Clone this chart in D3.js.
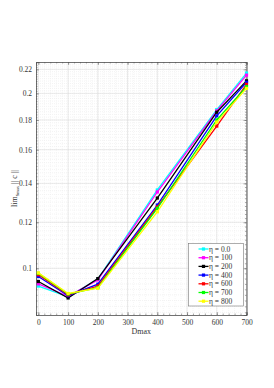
<!DOCTYPE html>
<html>
<head>
<meta charset="utf-8">
<script src="https://cdn.jsdelivr.net/npm/d3@7"></script>
<style>
body { margin: 0; background: #fff; }
text { font-family: "Liberation Serif", "DejaVu Serif", serif; }
</style>
</head>
<body>
<svg id="chart" width="274" height="388"></svg>
<script>
// data
let dmax = [0, 100, 200, 400, 600, 700]
let eta_labels = ["η = 0.0", "η = 100", "η = 200", "η = 400", "η = 600", "η = 700", "η = 800"]
let eta_colors = ["#00ffff", "#ff00ff", "#000000", "#0000ff", "#ff0000", "#00ff00", "#ffff00"]
let eta_0   = [0.0932, 0.0893, 0.0958, 0.1364, 0.1876, 0.2168]
let eta_100 = [0.0940, 0.0895, 0.0955, 0.1353, 0.1866, 0.2150]
let eta_200 = [0.0949, 0.0889, 0.0960, 0.1321, 0.1856, 0.2102]
let eta_400 = [0.0968, 0.0897, 0.0939, 0.1285, 0.1830, 0.2090]
let eta_600 = [0.0975, 0.0900, 0.0932, 0.1275, 0.1757, 0.2073]
let eta_700 = [0.0980, 0.0903, 0.0926, 0.1268, 0.1800, 0.2054]
let eta_800 = [0.0982, 0.0905, 0.0924, 0.1251, 0.1785, 0.2040]
let series = [eta_0, eta_100, eta_200, eta_400, eta_600, eta_700, eta_800]
let x_ticks = [0, 100, 200, 300, 400, 500, 600, 700]
let y_ticks = [0.1, 0.12, 0.14, 0.16, 0.18, 0.2, 0.22]
let y_tick_labels = ["0.1", "0.12", "0.14", "0.16", "0.18", "0.2", "0.22"]

let svg = d3.select("#chart")
let p_left = 36, p_right = 246.5, p_top = 62, p_bottom = 315

let x = d3.scaleLinear().domain([-8, 700]).range([p_left, p_right])
let y = d3.scaleLog().domain([0.0831, 0.2265]).range([p_bottom, p_top])

let y_minor = d3.range(84, 227, 2).map(d => d / 1000)
let x_minor = d3.range(0, 701, 20)

// minor grid
svg.append("g").selectAll("line").data(y_minor).join("line")
   .attr("x1", p_left).attr("x2", p_right)
   .attr("y1", d => y(d)).attr("y2", d => y(d))
   .attr("stroke", "#e6e6e6").attr("stroke-width", 0.5)
   .attr("stroke-dasharray", "1,1")
svg.append("g").selectAll("line").data(x_minor).join("line")
   .attr("x1", d => x(d)).attr("x2", d => x(d))
   .attr("y1", p_top).attr("y2", p_bottom)
   .attr("stroke", "#ececec").attr("stroke-width", 0.5)
   .attr("stroke-dasharray", "1,1")

// major grid
svg.append("g").selectAll("line").data(y_ticks).join("line")
   .attr("x1", p_left).attr("x2", p_right)
   .attr("y1", d => y(d)).attr("y2", d => y(d))
   .attr("stroke", "#dcdcdc").attr("stroke-width", 0.6)
svg.append("g").selectAll("line").data(x_ticks).join("line")
   .attr("x1", d => x(d)).attr("x2", d => x(d))
   .attr("y1", p_top).attr("y2", p_bottom)
   .attr("stroke", "#dcdcdc").attr("stroke-width", 0.6)

// axes
let axis_left = svg.append("g").attr("transform", "translate(" + p_left + ",0)")
axis_left.call(d3.axisLeft(y).tickValues(y_ticks).tickFormat((d, i) => y_tick_labels[i]).tickSize(-3).tickPadding(4))
let axis_left_minor = svg.append("g").attr("transform", "translate(" + p_left + ",0)")
axis_left_minor.call(d3.axisLeft(y).tickValues(y_minor).tickFormat("").tickSize(-1.5))
let axis_right = svg.append("g").attr("transform", "translate(" + p_right + ",0)")
axis_right.call(d3.axisRight(y).tickValues(y_ticks).tickFormat("").tickSize(-3))
let axis_right_minor = svg.append("g").attr("transform", "translate(" + p_right + ",0)")
axis_right_minor.call(d3.axisRight(y).tickValues(y_minor).tickFormat("").tickSize(-1.5))
let axis_bottom = svg.append("g").attr("transform", "translate(0," + p_bottom + ")")
axis_bottom.call(d3.axisBottom(x).tickValues(x_ticks).tickSize(-3).tickPadding(5))
let axis_top = svg.append("g").attr("transform", "translate(0," + p_top + ")")
axis_top.call(d3.axisTop(x).tickValues(x_ticks).tickFormat("").tickSize(-3))
let axis_top_minor = svg.append("g").attr("transform", "translate(0," + p_top + ")")
axis_top_minor.call(d3.axisTop(x).tickValues(x_minor).tickFormat("").tickSize(-1.5))
let axis_bottom_minor = svg.append("g").attr("transform", "translate(0," + p_bottom + ")")
axis_bottom_minor.call(d3.axisBottom(x).tickValues(x_minor).tickFormat("").tickSize(-1.5))

svg.selectAll(".domain").attr("stroke", "#555").attr("stroke-width", 0.6)
svg.selectAll(".tick line").attr("stroke", "#555").attr("stroke-width", 0.5)
svg.selectAll(".tick text").attr("font-size", 7.5).attr("fill", "#333")

// labels
svg.append("text")
   .attr("x", (p_left + p_right) / 2).attr("y", 334)
   .attr("text-anchor", "middle").attr("font-size", 8).attr("fill", "#333")
   .text("Dmax")
let ylab = svg.append("text")
   .attr("transform", "translate(17," + ((p_top + p_bottom) / 2) + ") rotate(-90)")
   .attr("text-anchor", "middle").attr("font-size", 8).attr("fill", "#333")
ylab.append("tspan").text("lim")
ylab.append("tspan").attr("font-size", 4.5).attr("dy", 2).text("Smax")
ylab.append("tspan").attr("dy", -2).text(" || c ||")

// lines
let line = d3.line().x((d, i) => x(dmax[i])).y(d => y(d))
series.forEach(function(s, k){
  svg.append("path")
     .attr("d", line(s))
     .attr("fill", "none")
     .attr("stroke", eta_colors[k])
     .attr("stroke-width", 1.3)
  svg.append("g").selectAll("rect").data(s).join("rect")
     .attr("x", (d, i) => x(dmax[i]) - 1.6)
     .attr("y", d => y(d) - 1.6)
     .attr("width", 3.2).attr("height", 3.2)
     .attr("fill", eta_colors[k])
})

// legend
let leg_x = 188.5, leg_y = 243.5, leg_w = 55, leg_h = 62.5, leg_step = 8.7
let legend = svg.append("g")
legend.append("rect")
      .attr("x", leg_x).attr("y", leg_y).attr("width", leg_w).attr("height", leg_h)
      .attr("fill", "#fff").attr("stroke", "#777").attr("stroke-width", 0.6)
eta_labels.forEach(function(lab, k){
  let ly = leg_y + 5.5 + k * leg_step
  legend.append("line")
        .attr("x1", leg_x + 10).attr("x2", leg_x + 20)
        .attr("y1", ly).attr("y2", ly)
        .attr("stroke", eta_colors[k]).attr("stroke-width", 1.3)
  legend.append("rect")
        .attr("x", leg_x + 15 - 1.6).attr("y", ly - 1.6)
        .attr("width", 3.2).attr("height", 3.2)
        .attr("fill", eta_colors[k])
  legend.append("text")
        .attr("x", leg_x + 20.5).attr("y", ly + 2.6)
        .attr("font-size", 7.5).attr("fill", "#333")
        .text(lab)
})
</script>
</body>
</html>
